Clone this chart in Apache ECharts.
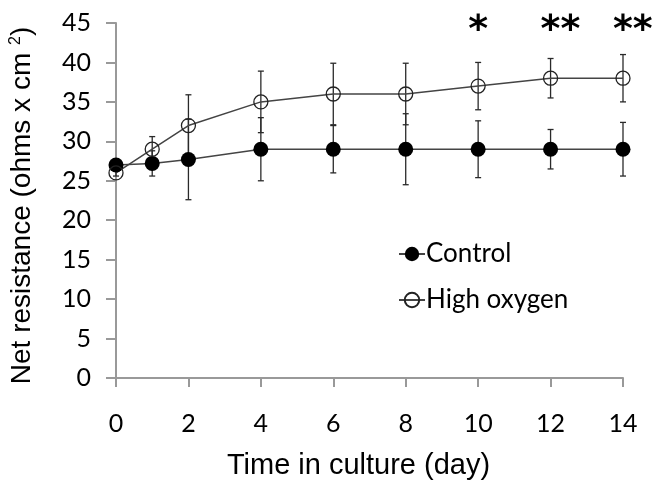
<!DOCTYPE html>
<html>
<head>
<meta charset="utf-8">
<script src="https://cdn.jsdelivr.net/npm/echarts@6/dist/echarts.min.js"></script>
<style>html,body{margin:0;padding:0;background:#fff}#c{width:663px;height:485px}</style>
</head>
<body>
<div id="c"></div>
<script>
var days = [0, 1, 2, 4, 6, 8, 10, 12, 14];
var control = [27, 27.2, 27.7, 29, 29, 29, 29, 29, 29];
var controlErr = [0.4, 1.6, 5.1, 4.0, 3.0, 4.5, 3.6, 2.5, 3.4];
var highOxygen = [26, 29, 32, 35, 36, 36, 37, 38, 38];
var highOxygenErr = [0.4, 1.6, 3.9, 3.9, 3.9, 3.9, 3.0, 2.5, 3.0];
var sigDays = [10, 12, 14];
var sigMarks = ['*', '**', '**'];
var sigLevel = 45;
var yTicks = [0, 5, 10, 15, 20, 25, 30, 35, 40, 45];
var xTicks = [0, 2, 4, 6, 8, 10, 12, 14];

function pairs(xs, ys) { return xs.map(function (x, i) { return [x, ys[i]]; }); }
function errData(xs, ys, es) { return xs.map(function (x, i) { return [x, ys[i] - es[i], ys[i] + es[i]]; }); }

function errRender(params, api) {
  var x = api.value(0);
  var lo = api.coord([x, api.value(1)]);
  var hi = api.coord([x, api.value(2)]);
  var cap = 3;
  var st = { stroke: '#2a2a2a', lineWidth: 1.3 };
  return {
    type: 'group',
    children: [
      { type: 'line', shape: { x1: lo[0], y1: lo[1], x2: hi[0], y2: hi[1] }, style: st },
      { type: 'line', shape: { x1: lo[0] - cap, y1: lo[1], x2: lo[0] + cap, y2: lo[1] }, style: st },
      { type: 'line', shape: { x1: hi[0] - cap, y1: hi[1], x2: hi[0] + cap, y2: hi[1] }, style: st }
    ]
  };
}

var chart = echarts.init(document.getElementById('c'));
chart.setOption({
  animation: false,
  backgroundColor: '#fff',
  grid: { left: 116, right: 40, top: 23, bottom: 106, containLabel: false },
  legend: {
    orient: 'vertical',
    left: 393,
    top: 236,
    itemGap: 20,
    itemWidth: 26,
    itemHeight: 18,
    textStyle: { fontFamily: 'Lato', fontSize: 26, color: '#000', padding: [0, 0, 0, -4] },
    data: ['Control', 'High oxygen']
  },
  xAxis: {
    type: 'value',
    min: 0, max: 14, interval: 2,
    name: 'Time in culture (day)',
    nameLocation: 'middle',
    nameGap: 73,
    nameTextStyle: { fontFamily: 'Liberation Sans', fontSize: 29, color: '#000', padding: [0, 22, 0, 0] },
    axisLine: { lineStyle: { color: '#999', width: 2 } },
    axisTick: { show: true, length: 9, lineStyle: { color: '#999', width: 2 } },
    axisLabel: {
      margin: 33, fontFamily: 'Lato', fontSize: 25, color: '#000',
      customValues: xTicks
    },
    splitLine: { show: false }
  },
  yAxis: {
    type: 'value',
    min: 0, max: 45, interval: 5,
    name: 'Net resistance (ohms x cm {sup|2})',
    nameLocation: 'middle',
    nameGap: 80,
    nameTextStyle: {
      fontFamily: 'Liberation Sans', fontSize: 28, color: '#000', padding: [0, 10, 0, 0],
      rich: { sup: { fontFamily: 'Liberation Sans', fontSize: 16, color: '#000', verticalAlign: 'top', padding: [0, 0, 10, 0] } }
    },
    axisLine: { show: true, lineStyle: { color: '#999', width: 2 } },
    axisTick: { show: true, length: 10, lineStyle: { color: '#999', width: 2 } },
    axisLabel: { margin: 25, fontFamily: 'Lato', fontSize: 25, color: '#000', customValues: yTicks },
    splitLine: { show: false }
  },
  series: [
    {
      type: 'custom', name: 'errC', renderItem: errRender,
      data: errData(days, control, controlErr), z: 1, silent: true,
      encode: { x: 0, y: [1, 2] }
    },
    {
      type: 'custom', name: 'errH', renderItem: errRender,
      data: errData(days, highOxygen, highOxygenErr), z: 1, silent: true,
      encode: { x: 0, y: [1, 2] }
    },
    {
      type: 'line', name: 'Control', data: pairs(days, control),
      symbol: 'circle', symbolSize: 15, z: 3,
      lineStyle: { color: '#444', width: 1.5 },
      itemStyle: { color: '#000', borderColor: '#000', borderWidth: 0 }
    },
    {
      type: 'line', name: 'High oxygen', data: pairs(days, highOxygen),
      symbol: 'circle', symbolSize: 14, z: 3,
      lineStyle: { color: '#444', width: 1.5 },
      itemStyle: { color: 'rgba(255,255,255,0)', borderColor: '#222', borderWidth: 1.3 }
    },
    {
      type: 'scatter', name: 'sig', silent: true, z: 5,
      data: sigDays.map(function (d, i) { return [d, sigLevel, sigMarks[i]]; }),
      symbol: 'circle', symbolSize: 2,
      itemStyle: { color: 'rgba(255,255,255,0)', opacity: 1 },
      label: {
        show: true, position: 'inside', align: 'left', verticalAlign: 'middle', offset: [-10, 8],
        formatter: function (p) { return p.data[2]; },
        fontFamily: 'DejaVu Sans', fontWeight: 'bold', fontSize: 38, color: '#000', opacity: 1
      }
    }
  ]
});
</script>
</body>
</html>
